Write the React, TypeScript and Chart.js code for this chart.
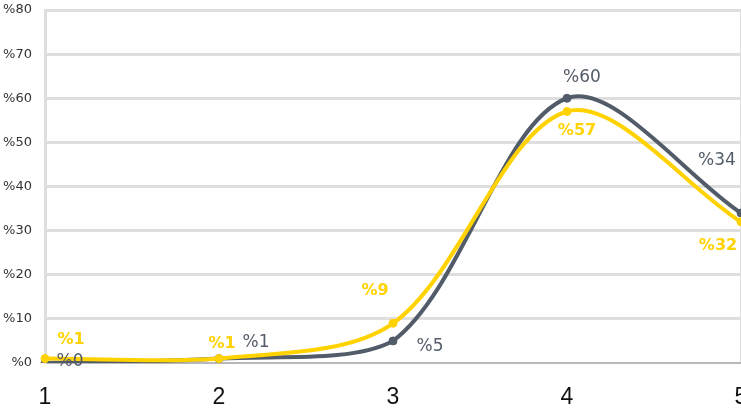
import React, { useEffect, useRef } from "react";
import { Chart, registerables } from "chart.js";

Chart.register(...registerables);

const categories = ["1", "2", "3", "4", "5"];
const yellowValues = [1, 1, 9, 57, 32];
const grayValues = [0, 1, 5, 60, 34];
const yTicks = [0, 10, 20, 30, 40, 50, 60, 70, 80];

const YELLOW = "#ffd200";
const GRAY = "#525c68";

// label offsets (pixels relative to point) – styling only
const yellowLabelOffsets = [
  [26, -19],
  [3, -15],
  [-18, -32],
  [10, 19],
  [-23, 24],
];
const grayLabelOffsets = [
  [25, -1],
  [37, -16],
  [37, 6],
  [15, -21],
  [-24, -52],
];

const labelPlugin = {
  id: "pointLabels",
  afterDatasetsDraw(chart: any) {
    const ctx = chart.ctx;
    chart.data.datasets.forEach((ds: any, di: number) => {
      const meta = chart.getDatasetMeta(di);
      const offs = ds.labelOffsets as number[][];
      ctx.save();
      ctx.font = ds.labelFont;
      ctx.fillStyle = ds.borderColor;
      ctx.textAlign = "center";
      ctx.textBaseline = "middle";
      meta.data.forEach((pt: any, i: number) => {
        const v = ds.data[i];
        const o = offs[i];
        ctx.fillText("%" + v, pt.x + o[0], pt.y + o[1]);
      });
      ctx.restore();
    });
  },
};

export default function App() {
  const ref = useRef<HTMLCanvasElement>(null);
  useEffect(() => {
    if (!ref.current) return;
    const chart = new Chart(ref.current, {
      type: "line",
      data: {
        labels: categories,
        datasets: [
          {
            data: yellowValues,
            borderColor: YELLOW,
            backgroundColor: YELLOW,
            pointBackgroundColor: YELLOW,
            pointBorderColor: YELLOW,
            borderWidth: 4,
            pointRadius: 4,
            pointBorderWidth: 1,
            tension: 0.32,
            fill: false,
            labelOffsets: yellowLabelOffsets,
            labelFont: "bold 16px 'DejaVu Sans'",
          } as any,
          {
            data: grayValues,
            borderColor: GRAY,
            backgroundColor: GRAY,
            pointBackgroundColor: GRAY,
            pointBorderColor: GRAY,
            borderWidth: 4,
            pointRadius: 4,
            pointBorderWidth: 1,
            tension: 0.32,
            fill: false,
            labelOffsets: grayLabelOffsets,
            labelFont: "17px 'DejaVu Sans'",
          } as any,
        ],
      },
      options: {
        responsive: false,
        animation: false,
        layout: { autoPadding: false, padding: { top: 10, right: 19, left: 0, bottom: 0 } },
        plugins: {
          legend: { display: false },
          tooltip: { enabled: false },
        },
        scales: {
          x: {
            offset: false,
            grid: {
              drawTicks: false,
              color: (c: any) => (c.index === categories.length - 1 ? "#dedede" : "rgba(0,0,0,0)"),
              lineWidth: 3,
            },
            border: { display: false },
            ticks: {
              padding: 21,
              color: "#111",
              font: { family: "'Liberation Sans'", size: 23 },
              maxRotation: 0,
              autoSkip: false,
            },
            afterFit: (s: any) => {
              s.height = 46;
              s.paddingLeft = 0;
              s.paddingRight = 0;
            },
          },
          y: {
            min: yTicks[0],
            max: yTicks[yTicks.length - 1],
            afterBuildTicks: (s: any) => {
              s.ticks = yTicks.map((v) => ({ value: v }));
            },
            grid: {
              drawTicks: false,
              color: (c: any) => (c.tick && c.tick.value === 0 ? "#b8b8b8" : "#dedede"),
              lineWidth: (c: any) => (c.tick && c.tick.value === 0 ? 2 : 3),
            },
            border: { display: true, color: "#dedede", width: 3 },
            ticks: {
              padding: 13,
              color: "#333",
              font: { family: "'DejaVu Sans'", size: 13 },
              callback: (v: any) => "%" + v,
            },
            afterFit: (s: any) => {
              s.width = 45;
              s.paddingTop = 0;
              s.paddingBottom = 0;
            },
          },
        },
      },
      plugins: [labelPlugin],
    });
    return () => chart.destroy();
  }, []);
  return (
    <div style={{ position: "fixed", left: 0, top: 0, width: 760, height: 409 }}>
      <canvas ref={ref} width={760} height={409} />
    </div>
  );
}
